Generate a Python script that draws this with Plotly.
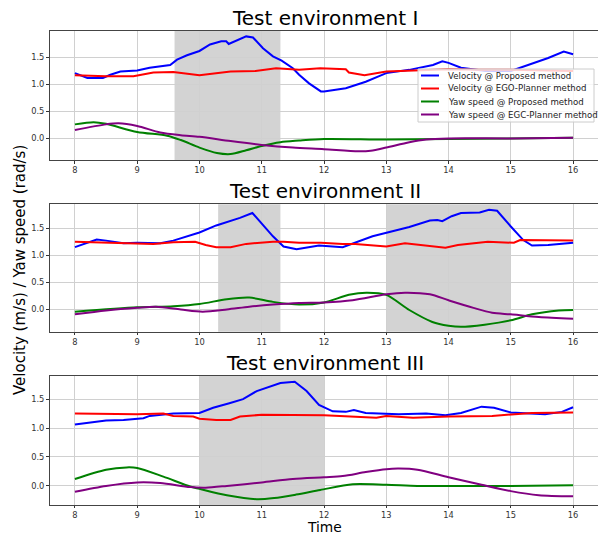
import plotly.graph_objects as go

# ---------------- data ----------------
titles = ["Test environment I", "Test environment II", "Test environment III"]
names = ["Velocity @ Proposed method", "Velocity @ EGO-Planner method",
         "Yaw speed @ Proposed method", "Yaw speed @ EGC-Planner method"]
xticks = [8, 9, 10, 11, 12, 13, 14, 15, 16]
yticks = [0.0, 0.5, 1.0, 1.5]
ytick_labels = ["0.0", "0.5", "1.0", "1.5"]

shade1 = [[9.6, 11.3]]
shade2 = [[10.3, 11.3], [13.0, 15.0]]
shade3 = [[10.0, 12.0]]

# Environment I
e1_vp_t = [8.0, 8.2, 8.45, 8.57, 8.73, 9.0, 9.2, 9.37, 9.53, 9.64, 9.8, 10.0, 10.17, 10.35, 10.43, 10.47, 10.55, 10.65, 10.75, 10.86, 11.02, 11.18, 11.32, 11.5, 11.6, 11.76, 11.95, 12.0, 12.35, 12.67, 13.0, 13.37, 13.75, 13.9, 14.0, 14.2, 14.6, 15.0, 15.34, 15.6, 15.85, 16.0]
e1_vp = [1.21, 1.12, 1.12, 1.18, 1.24, 1.26, 1.31, 1.33, 1.36, 1.46, 1.54, 1.62, 1.74, 1.80, 1.80, 1.75, 1.79, 1.85, 1.89, 1.87, 1.67, 1.52, 1.44, 1.30, 1.18, 1.02, 0.87, 0.87, 0.93, 1.05, 1.21, 1.27, 1.36, 1.43, 1.40, 1.31, 1.25, 1.25, 1.39, 1.49, 1.61, 1.56]
e1_ve_t = [8.0, 8.5, 8.94, 9.26, 9.58, 10.0, 10.5, 10.9, 11.23, 11.6, 11.94, 12.35, 12.4, 12.65, 13.0, 13.5, 14.0, 14.5, 15.0, 16.0]
e1_ve = [1.17, 1.15, 1.15, 1.22, 1.23, 1.17, 1.24, 1.25, 1.30, 1.27, 1.30, 1.28, 1.22, 1.17, 1.24, 1.26, 1.28, 1.27, 1.27, 1.25]
e1_yp_t = [8.0, 8.3, 8.5, 9.0, 9.48, 9.7, 10.0, 10.28, 10.5, 10.75, 11.0, 11.3, 11.6, 12.0, 13.0, 14.0, 15.0, 16.0]
e1_yp = [0.26, 0.30, 0.27, 0.12, 0.05, -0.03, -0.17, -0.27, -0.29, -0.22, -0.14, -0.07, -0.04, -0.01, -0.02, -0.01, 0.0, 0.01]
e1_ye_t = [8.0, 8.5, 8.7, 9.0, 9.37, 9.7, 10.0, 10.5, 11.0, 11.5, 12.0, 12.55, 12.75, 13.0, 13.37, 13.64, 14.0, 15.0, 16.0]
e1_ye = [0.155, 0.26, 0.28, 0.23, 0.11, 0.06, 0.03, -0.05, -0.12, -0.17, -0.20, -0.24, -0.23, -0.17, -0.07, -0.02, 0.0, 0.0, 0.01]

# Environment II
e2_vp_t = [8.0, 8.35, 8.5, 8.78, 9.0, 9.37, 9.58, 10.0, 10.27, 10.65, 10.85, 10.97, 11.18, 11.35, 11.56, 11.92, 12.3, 12.78, 13.0, 13.37, 13.7, 13.82, 13.9, 14.05, 14.2, 14.5, 14.65, 14.78, 15.0, 15.2, 15.34, 15.6, 16.0]
e2_vp = [1.15, 1.29, 1.27, 1.22, 1.23, 1.22, 1.27, 1.42, 1.55, 1.69, 1.78, 1.63, 1.35, 1.16, 1.11, 1.18, 1.15, 1.35, 1.41, 1.52, 1.64, 1.65, 1.63, 1.72, 1.78, 1.79, 1.84, 1.82, 1.53, 1.28, 1.18, 1.19, 1.23]
e2_ve_t = [8.0, 9.0, 9.26, 9.58, 9.93, 10.1, 10.27, 10.5, 10.75, 11.18, 11.35, 11.6, 11.95, 12.3, 12.5, 13.0, 13.3, 13.95, 14.15, 14.63, 15.05, 15.15, 16.0]
e2_ve = [1.25, 1.22, 1.21, 1.24, 1.25, 1.19, 1.15, 1.15, 1.21, 1.25, 1.25, 1.23, 1.23, 1.21, 1.21, 1.16, 1.22, 1.14, 1.19, 1.25, 1.23, 1.28, 1.27]
e2_yp_t = [8.0, 9.0, 9.58, 10.0, 10.44, 10.8, 11.18, 11.6, 12.0, 12.4, 12.68, 13.0, 13.37, 13.74, 14.0, 14.2, 14.58, 15.0, 15.34, 15.77, 16.0]
e2_yp = [-0.04, 0.04, 0.06, 0.10, 0.19, 0.22, 0.14, 0.09, 0.13, 0.27, 0.31, 0.27, -0.01, -0.23, -0.30, -0.32, -0.28, -0.20, -0.09, -0.02, -0.01]
e2_ye_t = [8.0, 8.5, 9.0, 9.3, 9.7, 10.05, 10.44, 10.8, 11.18, 11.6, 12.0, 12.46, 13.0, 13.3, 13.7, 14.0, 14.4, 14.7, 15.0, 15.45, 16.0]
e2_ye = [-0.09, -0.02, 0.03, 0.05, 0.0, -0.04, 0.0, 0.05, 0.09, 0.12, 0.13, 0.17, 0.28, 0.31, 0.28, 0.17, 0.03, -0.06, -0.09, -0.14, -0.17]

# Environment III
e3_vp_t = [8.0, 8.5, 8.78, 9.1, 9.2, 9.58, 10.0, 10.22, 10.48, 10.7, 10.92, 11.3, 11.53, 11.72, 11.92, 12.14, 12.35, 12.48, 12.67, 13.2, 13.64, 13.95, 14.2, 14.53, 14.73, 15.0, 15.55, 15.82, 16.0]
e3_vp = [1.06, 1.13, 1.14, 1.17, 1.21, 1.25, 1.26, 1.35, 1.43, 1.50, 1.64, 1.78, 1.80, 1.64, 1.40, 1.29, 1.28, 1.31, 1.26, 1.24, 1.25, 1.22, 1.26, 1.37, 1.35, 1.27, 1.24, 1.28, 1.36]
e3_ve_t = [8.0, 9.0, 9.42, 9.58, 9.9, 10.0, 10.27, 10.5, 10.65, 11.0, 12.0, 12.84, 13.0, 13.43, 14.0, 14.7, 15.34, 16.0]
e3_ve = [1.25, 1.24, 1.25, 1.21, 1.20, 1.16, 1.14, 1.14, 1.20, 1.23, 1.22, 1.18, 1.21, 1.18, 1.20, 1.21, 1.26, 1.27]
e3_yp_t = [8.0, 8.5, 8.83, 9.0, 9.42, 9.85, 10.0, 10.44, 10.92, 11.2, 11.55, 11.94, 12.46, 13.0, 13.5, 14.0, 15.0, 16.0]
e3_yp = [0.12, 0.28, 0.32, 0.31, 0.16, -0.01, -0.05, -0.16, -0.23, -0.21, -0.15, -0.07, 0.03, 0.02, 0.0, 0.0, 0.0, 0.01]
e3_ye_t = [8.0, 8.5, 9.0, 9.37, 9.85, 10.1, 10.44, 11.0, 11.5, 12.0, 12.3, 12.67, 13.0, 13.2, 13.5, 14.0, 14.53, 15.0, 15.45, 16.0]
e3_ye = [-0.10, 0.0, 0.06, 0.05, -0.02, -0.03, 0.0, 0.06, 0.12, 0.15, 0.17, 0.24, 0.29, 0.30, 0.28, 0.15, 0.02, -0.09, -0.16, -0.18]

# ---------------- figure ----------------
W, H = 598, 535
FONT = "DejaVu Sans"
colors = ["#0000ff", "#ff0000", "#008000", "#800080"]

envs = [
    [(e1_vp_t, e1_vp), (e1_ve_t, e1_ve), (e1_yp_t, e1_yp), (e1_ye_t, e1_ye)],
    [(e2_vp_t, e2_vp), (e2_ve_t, e2_ve), (e2_yp_t, e2_yp), (e2_ye_t, e2_ye)],
    [(e3_vp_t, e3_vp), (e3_ve_t, e3_ve), (e3_yp_t, e3_yp), (e3_ye_t, e3_ye)],
]
shades = [shade1, shade2, shade3]
boxes = [(31, 160), (204.3, 331.7), (376, 505)]  # axes top/bottom in px
yranges = [[-0.40, 1.99], [-0.41, 1.94], [-0.33, 1.90]]
title_y = [18.5, 190.5, 362.5]
xticklens = [2.5, 2.5, 2]


def px(x):
    return x / W


def py(y):
    return 1 - y / H


fig = go.Figure()
for i, series in enumerate(envs):
    sfx = "" if i == 0 else str(i + 1)
    for j, (t, v) in enumerate(series):
        fig.add_trace(go.Scatter(
            x=t, y=v, mode="lines", name=names[j],
            line=dict(color=colors[j], width=2,
                      shape="spline" if j >= 2 else "linear", smoothing=0.8),
            xaxis="x" + sfx, yaxis="y" + sfx, showlegend=False,
        ))
    for a, b in shades[i]:
        fig.add_shape(type="rect", xref="x" + sfx, yref="y" + sfx + " domain",
                      x0=a, x1=b, y0=0, y1=1, fillcolor="#d3d3d3",
                      line=dict(width=0), layer="below")

layout = dict(
    width=W, height=H, autosize=False,
    margin=dict(l=0, r=0, t=0, b=0, pad=0),
    paper_bgcolor="white", plot_bgcolor="white",
    font=dict(family=FONT, color="#222"),
    showlegend=False,
)
for i in range(3):
    sfx = "" if i == 0 else str(i + 1)
    top, bot = boxes[i]
    common = dict(
        ticks="outside", tickcolor="#333", tickwidth=1,
        tickfont=dict(size=8.3, family=FONT, color="#333"),
        showgrid=True, gridcolor="#d0d0d0", gridwidth=1,
        showline=True, linecolor="#444", linewidth=1, zeroline=False,
    )
    layout["xaxis" + sfx] = dict(
        domain=[px(50), 1.0], range=[7.6, 16.4], anchor="y" + sfx,
        ticklen=xticklens[i],
        tickvals=xticks, ticktext=[str(v) for v in xticks], mirror=True, **common)
    layout["yaxis" + sfx] = dict(
        domain=[py(bot), py(top)], range=yranges[i], anchor="x" + sfx,
        ticklen=3,
        tickvals=yticks, ticktext=ytick_labels, mirror=False, **common)
fig.update_layout(**layout)

for i, t in enumerate(titles):
    fig.add_annotation(text=t, xref="paper", yref="paper",
                       x=px(324.5), y=py(title_y[i]),
                       xanchor="center", yanchor="middle", showarrow=False,
                       font=dict(size=20, family=FONT, color="black"))

fig.add_annotation(text="Velocity (m/s) / Yaw speed (rad/s)", xref="paper", yref="paper",
                   x=px(20), y=py(270), xanchor="center", yanchor="middle",
                   textangle=-90, showarrow=False,
                   font=dict(size=15, family=FONT, color="black"))
fig.add_annotation(text="Time", xref="paper", yref="paper",
                   x=px(324.5), y=py(526.8), xanchor="center", yanchor="middle",
                   showarrow=False, borderpad=0,
                   font=dict(size=13.8, family=FONT, color="black"))

# legend box (drawn in the first panel, upper right)
leg_x0, leg_x1, leg_y0, leg_y1 = 418, 594, 69, 122
fig.add_shape(type="rect", xref="paper", yref="paper",
              x0=px(leg_x0), x1=px(leg_x1), y0=py(leg_y1), y1=py(leg_y0),
              fillcolor="rgba(255,255,255,0.8)", line=dict(color="#cccccc", width=1),
              layer="above")
row_y = [75.5, 88.5, 101.5, 114.5]
for j, nm in enumerate(names):
    fig.add_shape(type="line", xref="paper", yref="paper",
                  x0=px(421), x1=px(439), y0=py(row_y[j]), y1=py(row_y[j]),
                  line=dict(color=colors[j], width=2), layer="above")
    fig.add_annotation(text=nm, xref="paper", yref="paper",
                       x=px(445.5), y=py(row_y[j]), xanchor="left", yanchor="middle",
                       showarrow=False, font=dict(size=8.6, family=FONT, color="#222"))

fig.write_html("out.html", config={"displayModeBar": False},
               post_script="document.body.style.margin='0px';document.body.style.overflow='hidden';")
